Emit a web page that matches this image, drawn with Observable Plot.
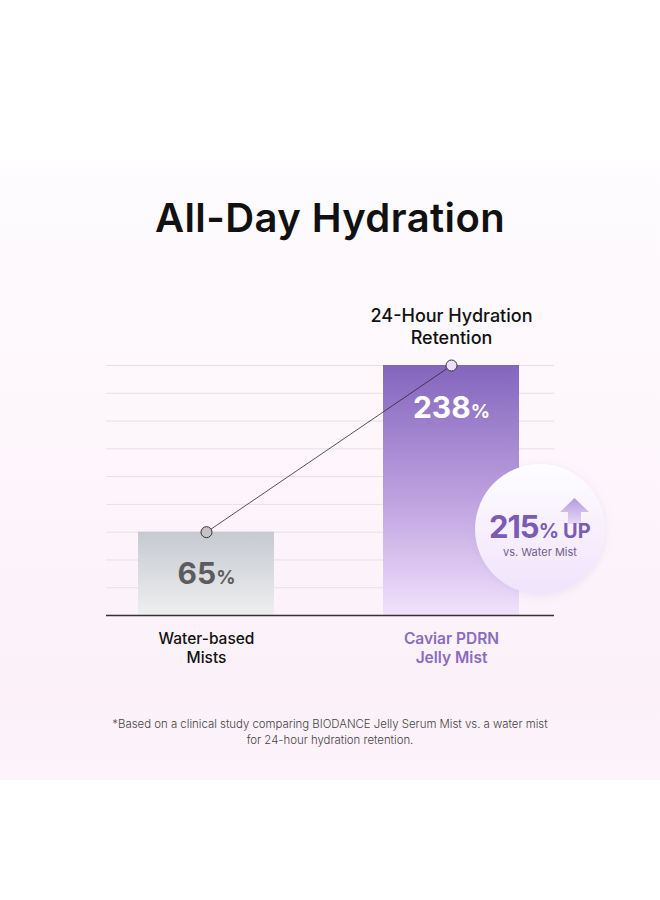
<!DOCTYPE html>
<html><head><meta charset="utf-8">
<script src="https://cdn.jsdelivr.net/npm/d3@7"></script>
<script src="https://cdn.jsdelivr.net/npm/@observablehq/plot@0.6"></script>
<style>
html,body{margin:0;padding:0;background:#fff;}
body{width:660px;height:900px;position:relative;overflow:hidden;font-family:Inter,"Noto Sans",sans-serif;}
#bg{position:absolute;left:0;top:165px;width:660px;height:615px;background:linear-gradient(#fefcfe,#fcf1f9 85%,#fdf3fa);}
#title{position:absolute;left:0;width:660px;top:194px;text-align:center;font-size:40px;font-weight:600;color:#111;letter-spacing:0.4px;margin:0;line-height:48px;}
#chart{position:absolute;left:0;top:290px;}
#badge{position:absolute;left:0;top:0;pointer-events:none;}
#note{position:absolute;left:0;width:660px;top:716px;text-align:center;font-size:11.4px;font-weight:300;color:#444;line-height:16px;}
#note div{white-space:nowrap;}
</style></head><body>
<div id="bg"></div>
<h1 id="title"></h1>
<div id="chart"></div>
<div id="note"></div>
<script>
// ---- data ----
const titleText = "All-Day Hydration";
const categories = ["Water-based Mists", "Caviar PDRN Jelly Mist"];
const categoryLines = [["Water-based", "Mists"], ["Caviar PDRN", "Jelly Mist"]];
const values = [65, 238];
const metricLines = ["24-Hour Hydration", "Retention"];
const badgeValue = [215];
const badgeSuffix = ["UP"];
const badgeSub = ["vs. Water Mist"];
const footnoteLines = [
  "*Based on a clinical study comparing BIODANCE Jelly Serum Mist vs. a water mist",
  "for 24-hour hydration retention."
];

// ---- build ----
const data = categories.map((c, i) => ({cat: c, value: values[i], lines: categoryLines[i]}));
const yMax = d3.max(values);
const exponent = 0.8465;
const gridValues = d3.range(1, 10).map(k => yMax * Math.pow(k / 9, 1 / exponent));

document.getElementById("title").textContent = titleText;
document.getElementById("note").innerHTML = footnoteLines.map(t => `<div>${t}</div>`).join("");

const purple = "#8a6cc0";
const chart = Plot.plot({
  width: 660,
  height: 385,
  marginLeft: 106,
  marginRight: 106,
  marginTop: 75,
  marginBottom: 60,
  style: {background: "transparent", fontFamily: "Inter, 'Noto Sans', sans-serif", overflow: "visible"},
  x: {type: "band", domain: categories, paddingInner: 0.4465, paddingOuter: 0.135, align: 0.4676, axis: null},
  y: {type: "pow", exponent, domain: [0, yMax], axis: null},
  marks: [
    Plot.ruleY(gridValues, {stroke: "#e6e0e6", strokeWidth: 1}),
    Plot.barY(data.slice(0, 1), {x: "cat", y: "value", fill: "url(#gBar1)"}),
    Plot.barY(data.slice(1, 2), {x: "cat", y: "value", fill: "url(#gBar2)"}),
    Plot.ruleY([0], {stroke: "#333", strokeWidth: 1.6}),
    Plot.line(data, {x: "cat", y: "value", stroke: "#2a2a2a", strokeWidth: 0.8}),
    Plot.dot(data.slice(0, 1), {x: "cat", y: "value", r: 5.5, fill: "#c4c4c6", stroke: "#333", strokeWidth: 1}),
    Plot.dot(data.slice(1, 2), {x: "cat", y: "value", r: 5.5, fill: "#ecdff8", stroke: "#333", strokeWidth: 1}),
    Plot.text(data.slice(0, 1), {x: "cat", y: "value", text: d => `${d.value}%`, dy: 42, fontSize: 30, fontWeight: 700, fill: "#5c5c5e", lineAnchor: "middle"}),
    Plot.text(data.slice(1, 2), {x: "cat", y: "value", text: d => `${d.value}%`, dy: 43, fontSize: 30, fontWeight: 700, fill: "#ffffff", lineAnchor: "middle"}),
    Plot.text(data.slice(1, 2), {x: "cat", y: "value", text: () => metricLines.join("\n"), dy: -22, lineAnchor: "bottom", fontSize: 18, lineHeight: 1.17, fontWeight: 500, fill: "#111"}),
    Plot.text(data.slice(0, 1), {x: "cat", y: 0, text: d => d.lines.join("\n"), dy: 15, lineAnchor: "top", fontSize: 15.5, lineHeight: 1.22, fontWeight: 500, fill: "#111"}),
    Plot.text(data.slice(1, 2), {x: "cat", y: 0, text: d => d.lines.join("\n"), dy: 15, lineAnchor: "top", fontSize: 15.5, lineHeight: 1.22, fontWeight: 600, fill: purple})
  ]
});

const svg = d3.select(chart);
const defs = svg.insert("defs", ":first-child");
const g1 = defs.append("linearGradient").attr("id", "gBar1").attr("x1", 0).attr("y1", 0).attr("x2", 0).attr("y2", 1);
g1.append("stop").attr("offset", "0%").attr("stop-color", "#c5c9d1");
g1.append("stop").attr("offset", "100%").attr("stop-color", "#efefef");
const g2 = defs.append("linearGradient").attr("id", "gBar2").attr("x1", 0).attr("y1", 0).attr("x2", 0).attr("y2", 1);
g2.append("stop").attr("offset", "0%").attr("stop-color", "#8365bd");
g2.append("stop").attr("offset", "55%").attr("stop-color", "#bfa3e0");
g2.append("stop").attr("offset", "100%").attr("stop-color", "#f2e2fc");

// smaller percent signs
svg.selectAll("text").each(function () {
  const t = this.textContent;
  const m = /^(\d+)%$/.exec(t);
  if (m) {
    const el = d3.select(this);
    el.text(m[1]);
    el.append("tspan").attr("font-size", 19).text("%");
  }
});

document.getElementById("chart").appendChild(chart);

// ---- badge annotation ----
const b = d3.select("body").append("svg").attr("id", "badge").attr("width", 660).attr("height", 900);
const bd = b.append("defs");
const f = bd.append("filter").attr("id", "shadow").attr("x", "-30%").attr("y", "-30%").attr("width", "160%").attr("height", "160%");
f.append("feDropShadow").attr("dx", 0).attr("dy", 2).attr("stdDeviation", 4).attr("flood-color", "#b79bd8").attr("flood-opacity", 0.22);
const cg = bd.append("linearGradient").attr("id", "gCircle").attr("x1", 0).attr("y1", 0).attr("x2", 0).attr("y2", 1);
cg.append("stop").attr("offset", "0%").attr("stop-color", "#fefdff");
cg.append("stop").attr("offset", "100%").attr("stop-color", "#f0e3fb");
const ag = bd.append("linearGradient").attr("id", "gArrow").attr("x1", 0).attr("y1", 0).attr("x2", 0).attr("y2", 1);
ag.append("stop").attr("offset", "0%").attr("stop-color", "#b59ade");
ag.append("stop").attr("offset", "100%").attr("stop-color", "#e6d9f6");
b.append("circle").attr("cx", 540).attr("cy", 529).attr("r", 65).attr("fill", "url(#gCircle)").attr("filter", "url(#shadow)");
b.append("path").attr("d", "M574.5,498 L589,512 L581,512 L581,524 L568,524 L568,512 L560,512 Z").attr("fill", "url(#gArrow)");
const bt = b.append("text").attr("x", 559).attr("y", 538).attr("text-anchor", "end")
  .attr("font-family", "Inter, 'Noto Sans', sans-serif").attr("font-weight", 700).attr("fill", "#7a5cb6");
bt.append("tspan").attr("font-size", 31).attr("letter-spacing", -1).text(badgeValue[0]);
bt.append("tspan").attr("font-size", 20).text("%");
b.append("text").attr("x", 563).attr("y", 538).attr("font-family", "Inter, 'Noto Sans', sans-serif")
  .attr("font-weight", 700).attr("font-size", 20).attr("fill", "#7a5cb6").text(badgeSuffix[0]);
b.append("text").attr("x", 540).attr("y", 556).attr("text-anchor", "middle").attr("font-family", "Inter, 'Noto Sans', sans-serif")
  .attr("font-size", 11).attr("fill", "#6e6189").text(badgeSub[0]);
</script>
</body></html>
